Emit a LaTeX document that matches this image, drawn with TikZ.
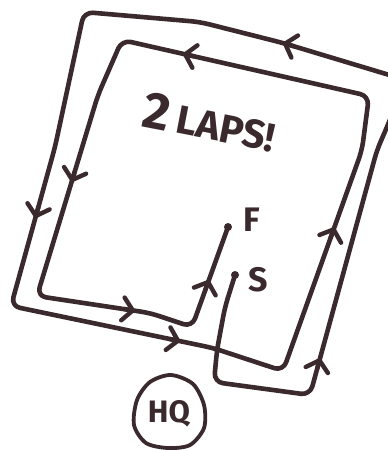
\documentclass[tikz,border=0pt]{standalone}
\usepackage{fontspec}
\setmainfont{Fira Sans}
\usetikzlibrary{arrows.meta,positioning,calc}
\definecolor{ink}{RGB}{58,42,46}
\tikzset{
  track/.style={draw=ink, line width=4.6pt, rounded corners=9pt, line cap=round, line join=round},
  barb/.style={draw=ink, line width=4.4pt, line cap=round, -{Straight Barb[length=10pt,width=23pt,round]}},
  dot/.style={circle, fill=ink, inner sep=0pt, minimum size=8pt},
  hand/.style={text=ink, inner sep=0pt, font=\bfseries\fontsize{34}{34}\selectfont},
}

\begin{document}
\begin{tikzpicture}[x=1pt,y=-1pt]
  \useasboundingbox (0,0) rectangle (388,450);
  \fill[white] (0,0) rectangle (388,450);
  \clip (0,0) rectangle (388,450);
  % start and finish
  \node[dot] (sdot) at (235,275) {};
  \node[dot] (fdot) at (228,227) {};
  \node[hand, right=9pt of sdot, yshift=-5pt] (slab) {S};
  \node[hand, right=11pt of fdot, yshift=7pt] (flab) {F};
  % corners of the track
  \coordinate (s1) at (225,307);
  \coordinate (s2) at (217,350);
  \coordinate (c1) at (214,382);
  \coordinate (c2) at (310,395);
  \coordinate (r1) at (377,150);
  \coordinate (r2) at (387,127);
  \coordinate (c3) at (406,80);
  \coordinate (t1) at (283,43);
  \coordinate (t2) at (200,22);
  \coordinate (c4) at (84,12);
  \coordinate (l1) at (55,147);
  \coordinate (c5) at (11,306);
  \coordinate (b1) at (213,348);
  \coordinate (c6) at (283,371);
  \coordinate (ir1) at (362,150);
  \coordinate (c7) at (369,96);
  \coordinate (c8) at (122,40);
  \coordinate (il1) at (98,95);
  \coordinate (c9) at (37,296);
  \coordinate (ib1) at (150,313);
  \coordinate (c10) at (192,327);
  % two laps, S to F
  \draw[track] (sdot.center) -- (s1) -- (s2) -- (c1) -- (c2) -- (r1) -- (r2) -- (c3)
    -- (t1) -- (t2) -- (c4) -- (l1) -- (c5) -- (b1) -- (c6) -- (ir1) -- (c7)
    -- (c8) -- (il1) -- (c9) -- (ib1) -- (c10) -- (fdot.center);
  % arrowheads along the way
  \foreach \a/\b/\p in {c2/r1/0.15, c6/ir1/0.65, c3/t1/1, c7/c8/0.753,
                        l1/c5/0.447, il1/c9/0.433, c9/ib1/0.867, c5/b1/0.837, c10/fdot/0.47} {
    \coordinate (tip) at ($(\a)!\p!(\b)$);
    \draw[barb] ($(tip)!11pt!(\a)$) -- (tip);
  }
  \node[hand, rotate=-11] (laps) at (210,122)
    {\fontsize{52}{52}\selectfont 2\hspace{7pt}\fontsize{40}{40}\selectfont LAPS!};
  % HQ
  \node[hand, font=\bfseries\fontsize{31}{31}\selectfont] (hq) at (169,414) {HQ};
  \draw[ink, line width=3.8pt] plot[smooth cycle] coordinates
    {(171,375) (193,384) (204,405) (204,428) (190,445) (168,448) (146,443) (134,425) (137,400) (150,382)};
\end{tikzpicture}
\end{document}
